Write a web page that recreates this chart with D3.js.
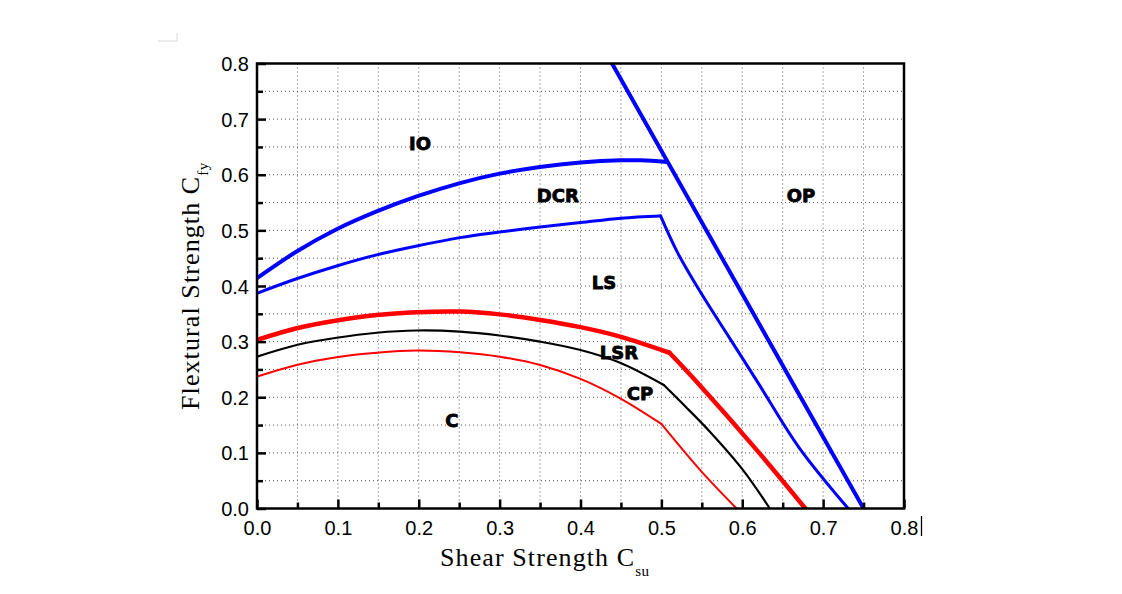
<!DOCTYPE html>
<html>
<head>
<meta charset="utf-8">
<script src="https://cdn.jsdelivr.net/npm/d3@7"></script>
<style>
  html, body { margin: 0; padding: 0; background: #fff; }
  svg { display: block; }
</style>
</head>
<body>
<svg id="chart" width="1122" height="594"></svg>
<script>
// ---------------- data ----------------
const xTicks = [0.0, 0.1, 0.2, 0.3, 0.4, 0.5, 0.6, 0.7, 0.8];
const yTicks = [0.0, 0.1, 0.2, 0.3, 0.4, 0.5, 0.6, 0.7, 0.8];
const minorTicks = [0.05, 0.15, 0.25, 0.35, 0.45, 0.55, 0.65, 0.75];

// IO / DCR boundary (thick blue)
const ioCurve = [[0,0.414],[0.049,0.462],[0.0985,0.502],[0.148,0.534],[0.1975,0.561],[0.251,0.585],[0.30,0.602],[0.35,0.614],[0.40,0.622],[0.45,0.626],[0.475,0.626],[0.507,0.623]];
// OP boundary (thick blue straight line)
const opLine = [[0.439,0.8],[0.75,0.0]];
// DCR / LS boundary (thin blue)
const dcrCurve = [[0,0.387],[0.049,0.413],[0.0985,0.436],[0.148,0.456],[0.1975,0.472],[0.251,0.487],[0.30,0.497],[0.35,0.506],[0.40,0.514],[0.45,0.522],[0.499,0.526]];
const dcrDrop = [[0.499,0.526],[0.52,0.46],[0.55,0.385],[0.585,0.305],[0.62,0.225],[0.67,0.11],[0.731,0.0]];
// LS / LSR boundary (thick red)
const lsCurve = [[0,0.303],[0.049,0.324],[0.0985,0.338],[0.148,0.348],[0.1975,0.353],[0.251,0.354],[0.30,0.349],[0.35,0.339],[0.40,0.326],[0.449,0.309],[0.51,0.28]];
const lsDrop = [[0.51,0.28],[0.5416,0.231],[0.618,0.105],[0.678,0.0]];
// LSR / CP boundary (black)
const lsrCurve = [[0,0.273],[0.049,0.294],[0.0985,0.307],[0.148,0.316],[0.1975,0.32],[0.251,0.318],[0.30,0.311],[0.35,0.30],[0.40,0.285],[0.449,0.262],[0.503,0.222]];
const lsrDrop = [[0.503,0.222],[0.53,0.183],[0.56,0.138],[0.601,0.069],[0.634,0.0]];
// CP / C boundary (thin red)
const cpCurve = [[0,0.237],[0.049,0.258],[0.0985,0.272],[0.148,0.28],[0.1975,0.284],[0.251,0.281],[0.30,0.273],[0.35,0.258],[0.40,0.233],[0.449,0.198],[0.5,0.152]];
const cpDrop = [[0.5,0.152],[0.548,0.069],[0.593,0.0]];

// region labels (text, x, y in data units)
const regionNames = ["IO", "DCR", "OP", "LS", "LSR", "CP", "C"];
const regionX = [0.2015, 0.372, 0.6726, 0.429, 0.4476, 0.4736, 0.241];
const regionY = [0.657, 0.5618, 0.5618, 0.407, 0.2813, 0.2076, 0.159];

// ---------------- drawing ----------------
const svg = d3.select("#chart");
const X0 = 257, X1 = 904, Y0 = 508.5, Y1 = 63.5;
const x = d3.scaleLinear().domain([0, 0.8]).range([X0, X1]);
const y = d3.scaleLinear().domain([0, 0.8]).range([Y0, Y1]);

// faint artefact at top-left
svg.append("path").attr("d", "M158,41 L177,41 L177,33")
  .attr("fill", "none").attr("stroke", "#d8d8d8").attr("stroke-width", 1);

// grid (dotted) every 0.05
const gridVals = d3.range(1, 16).map(i => i * 0.05);
const grid = svg.append("g").attr("stroke", "#555").attr("stroke-width", 1).attr("stroke-dasharray", "1,3");
grid.selectAll("line.v").data(gridVals).enter().append("line")
  .attr("x1", d => x(d)).attr("x2", d => x(d)).attr("y1", Y1).attr("y2", Y0);
grid.selectAll("line.h").data(gridVals).enter().append("line")
  .attr("y1", d => y(d)).attr("y2", d => y(d)).attr("x1", X0).attr("x2", X1);

// clip
svg.append("clipPath").attr("id", "clip").append("rect")
  .attr("x", X0).attr("y", Y1).attr("width", X1 - X0).attr("height", Y0 - Y1);
const plot = svg.append("g").attr("clip-path", "url(#clip)");

const smooth = d3.line().x(d => x(d[0])).y(d => y(d[1])).curve(d3.curveCatmullRom.alpha(0.5));
const straight = d3.line().x(d => x(d[0])).y(d => y(d[1]));

function draw(data, gen, color, width) {
  plot.append("path").attr("d", gen(data)).attr("fill", "none")
    .attr("stroke", color).attr("stroke-width", width)
    .attr("stroke-linejoin", "round").attr("stroke-linecap", "round");
}
draw(cpCurve, smooth, "#ff0000", 2);
draw(cpDrop, smooth, "#ff0000", 2);
draw(lsrCurve, smooth, "#000000", 2.2);
draw(lsrDrop, smooth, "#000000", 2.2);
draw(lsCurve, smooth, "#ff0000", 4.5);
draw(lsDrop, smooth, "#ff0000", 4.5);
draw(dcrCurve, smooth, "#0000ff", 3);
draw(dcrDrop, smooth, "#0000ff", 3);
draw(ioCurve, smooth, "#0000ff", 4);
draw(opLine, straight, "#0000ff", 4);

// frame
svg.append("rect").attr("x", X0).attr("y", Y1).attr("width", X1 - X0).attr("height", Y0 - Y1)
  .attr("fill", "none").attr("stroke", "#000").attr("stroke-width", 2.5);

// axes with inward ticks
const xAxis = d3.axisBottom(x).tickValues(xTicks).tickFormat(d3.format(".1f")).tickSize(-9).tickPadding(12);
const gx = svg.append("g").attr("transform", `translate(0,${Y0})`).call(xAxis);
const yAxis = d3.axisLeft(y).tickValues(yTicks).tickFormat(d3.format(".1f")).tickSize(-9).tickPadding(8);
const gy = svg.append("g").attr("transform", `translate(${X0},0)`).call(yAxis);
[gx, gy].forEach(g => {
  g.select(".domain").remove();
  g.selectAll(".tick line").attr("stroke", "#000").attr("stroke-width", 2.5);
  g.selectAll(".tick text").attr("font-family", "'Liberation Sans', Arial, sans-serif")
    .attr("font-size", 20).attr("fill", "#000");
});
gy.selectAll(".tick text").attr("dy", "0.35em");
// minor ticks
const mx = d3.axisBottom(x).tickValues(minorTicks).tickFormat("").tickSize(-6);
const my = d3.axisLeft(y).tickValues(minorTicks).tickFormat("").tickSize(-6);
const gmx = svg.append("g").attr("transform", `translate(0,${Y0})`).call(mx);
const gmy = svg.append("g").attr("transform", `translate(${X0},0)`).call(my);
[gmx, gmy].forEach(g => {
  g.select(".domain").remove();
  g.selectAll(".tick line").attr("stroke", "#000").attr("stroke-width", 2.5);
});

// small bar after last x label
svg.append("line").attr("x1", 921.5).attr("x2", 921.5).attr("y1", 516).attr("y2", 536)
  .attr("stroke", "#000").attr("stroke-width", 1.3);

// region labels
svg.append("g").selectAll("text").data(regionNames).enter().append("text")
  .attr("x", (d, i) => x(regionX[i])).attr("y", (d, i) => y(regionY[i]))
  .attr("dy", "0.36em").attr("text-anchor", "middle")
  .attr("font-family", "'DejaVu Sans', sans-serif").attr("font-weight", "bold")
  .attr("font-size", 18).attr("stroke", "#000").attr("stroke-width", 0.8)
  .attr("fill", "#000").text(d => d);

// axis titles
const serif = "'Liberation Serif', 'Times New Roman', serif";
const xt = svg.append("text").attr("x", 440).attr("y", 566)
  .attr("font-family", serif).attr("font-size", 26).attr("letter-spacing", "1.1px").attr("fill", "#000");
xt.append("tspan").text("Shear Strength C");
xt.append("tspan").attr("dy", 10).attr("font-size", 15).attr("letter-spacing", "0.5px").text("su");

const yt = svg.append("text").attr("transform", "translate(199,410) rotate(-90)")
  .attr("font-family", serif).attr("font-size", 26).attr("letter-spacing", "1.1px").attr("fill", "#000");
yt.append("tspan").text("Flextural Strength C");
yt.append("tspan").attr("dy", 9).attr("font-size", 15).attr("letter-spacing", "0.5px").text("fy");
</script>
</body>
</html>
